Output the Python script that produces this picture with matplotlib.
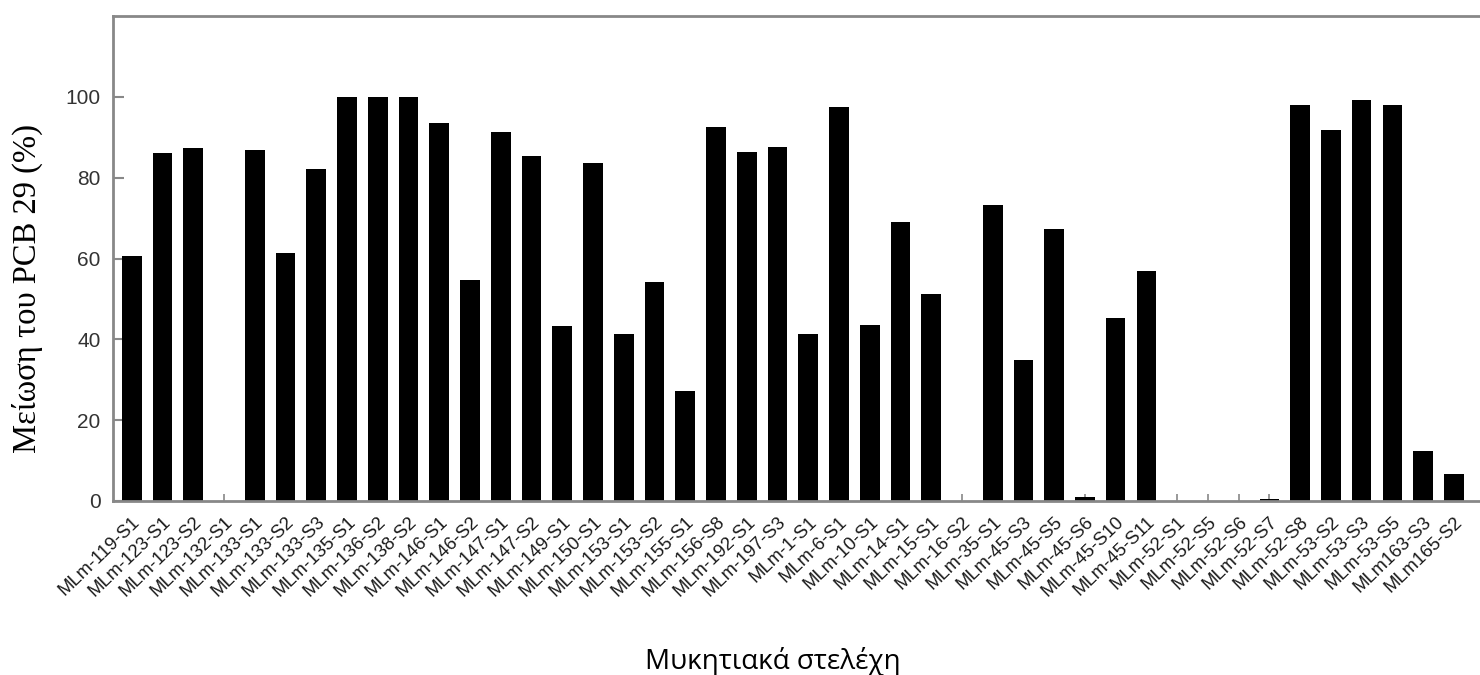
import matplotlib
matplotlib.use("Agg")
import matplotlib.pyplot as plt
import numpy as np

# strain names (x axis)
strains = ["MLm-119-S1", "MLm-123-S1", "MLm-123-S2", "MLm-132-S1", "MLm-133-S1",
           "MLm-133-S2", "MLm-133-S3", "MLm-135-S1", "MLm-136-S2", "MLm-138-S2",
           "MLm-146-S1", "MLm-146-S2", "MLm-147-S1", "MLm-147-S2", "MLm-149-S1",
           "MLm-150-S1", "MLm-153-S1", "MLm-153-S2", "MLm-155-S1", "MLm-156-S8",
           "MLm-192-S1", "MLm-197-S3", "MLm-1-S1", "MLm-6-S1", "MLm-10-S1",
           "MLm-14-S1", "MLm-15-S1", "MLm-16-S2", "MLm-35-S1", "MLm-45-S3",
           "MLm-45-S5", "MLm-45-S6", "MLm-45-S10", "MLm-45-S11", "MLm-52-S1",
           "MLm-52-S5", "MLm-52-S6", "MLm-52-S7", "MLm-52-S8", "MLm-53-S2",
           "MLm-53-S3", "MLm-53-S5", "MLm163-S3", "MLm165-S2"]

# PCB 29 reduction (%)
reduction = [60.6, 86.1, 87.3, 0, 86.8, 61.3, 82.1, 99.9, 99.9, 99.9,
             93.6, 54.6, 91.4, 85.4, 43.3, 83.7, 41.4, 54.2, 27.1, 92.5,
             86.3, 87.7, 41.2, 97.5, 43.5, 69.1, 51.1, 0, 73.3, 35.0,
             67.3, 1.0, 45.4, 56.9, 0, 0, 0, 0.5, 98.0, 91.7,
             99.1, 98.0, 12.3, 6.6]

yticks = [0, 20, 40, 60, 80, 100]

fig = plt.figure(figsize=(14.8, 6.75), dpi=100)
ax = fig.add_axes([113/1480, 1 - 501/675, 1 - 113/1480, (501 - 16)/675])

x = np.arange(len(strains))
ax.bar(x, reduction, width=0.64, color="black", zorder=2)

ax.set_xlim(-0.61, 43.85)
ax.set_ylim(0, 120)
ax.set_yticks(yticks)
ax.set_xticks(x)
ax.set_xticklabels(strains, rotation=44, ha="right", va="top",
                   rotation_mode="anchor", fontsize=13.3, family="Liberation Sans",
                   color="#1a1a1a")
for lab in ax.get_yticklabels():
    lab.set_family("Liberation Sans")
    lab.set_fontsize(15)
    lab.set_color("#333333")

ax.tick_params(axis="x", direction="in", length=5, width=1.2, color="#888888", pad=9)
ax.tick_params(axis="y", direction="in", length=8, width=1.5, color="#888888", pad=9)

for side in ["left", "top", "bottom"]:
    ax.spines[side].set_color("#888888")
    ax.spines[side].set_linewidth(2)
ax.spines["right"].set_visible(False)

# axis titles
fig.text(27/1480, 1 - 288/675, "Μείωση του PCB 29 (%)", rotation=90,
         ha="center", va="center", family="Liberation Serif", fontsize=23.5)
fig.text(773/1480, 1 - 662/675, "Μυκητιακά στελέχη", ha="center", va="center",
         family=["Open Sans", "DejaVu Sans"], fontsize=20)

fig.savefig("out.png", dpi=100)
